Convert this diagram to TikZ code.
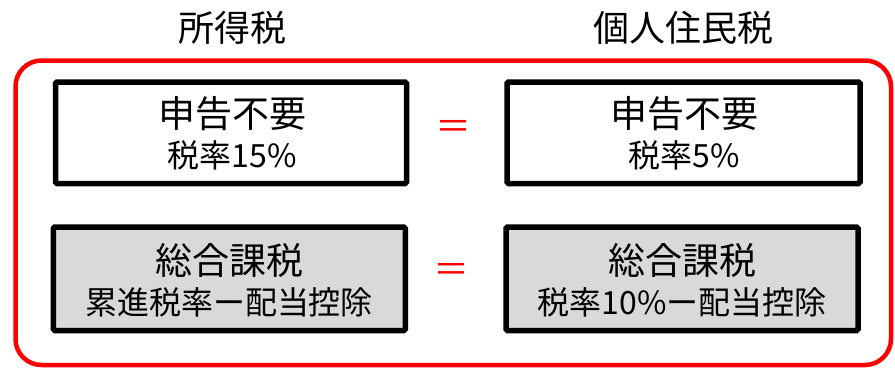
\documentclass[tikz,border=0pt]{standalone}
\usepackage{fontspec}
\setmainfont{Noto Sans CJK JP}
\begin{document}
\begin{tikzpicture}[x=1pt,y=-1pt,
  frame/.style={draw=red,line width=4.5pt,rounded corners=26pt},
  taxbox/.style={draw=black,line width=5.5pt,rounded corners=1.5pt,inner sep=0pt},
  plainbox/.style={taxbox,fill=white},
  graybox/.style={taxbox,fill=black!15},
  head/.style={inner sep=0pt,font=\fontsize{36}{40}\selectfont},
  big/.style={inner sep=0pt,font=\fontsize{37}{40}\selectfont},
  small/.style={inner sep=0pt,font=\fontsize{32}{36}\selectfont},
  eq/.style={inner sep=0pt,text=red,font=\fontsize{36}{40}\selectfont}]
\useasboundingbox (0,0) rectangle (895,368);
\draw[frame] (15.5,60.5) rectangle (891,365);
\node[head] (t1) at (232,28) {所得税};
\node[head] (t2) at (683,28) {個人住民税};
% boxes (line centres)
\draw[plainbox] (55.5,82) rectangle (406.5,183.5);
\draw[plainbox] (507,82) rectangle (860,183.5);
\draw[graybox] (53.3,227) rectangle (405.3,330.5);
\draw[graybox] (506,227) rectangle (858,330.5);
\node[big] (l1a) at (232,114) {申告不要};
\node[small] (l1b) at (232,155) {税率15\%};
\node[big] (l2a) at (684,114) {申告不要};
\node[small] (l2b) at (684,155) {税率5\%};
\node[big] (l3a) at (229,260) {総合課税};
\node[small] (l3b) at (229,302.5) {累進税率ー配当控除};
\node[big] (l4a) at (682,260) {総合課税};
\node[small] (l4b) at (682,302.5) {税率10\%ー配当控除};
\node[eq] (e1) at (453,130) {＝};
\node[eq] (e2) at (451,273) {＝};
\end{tikzpicture}
\end{document}
